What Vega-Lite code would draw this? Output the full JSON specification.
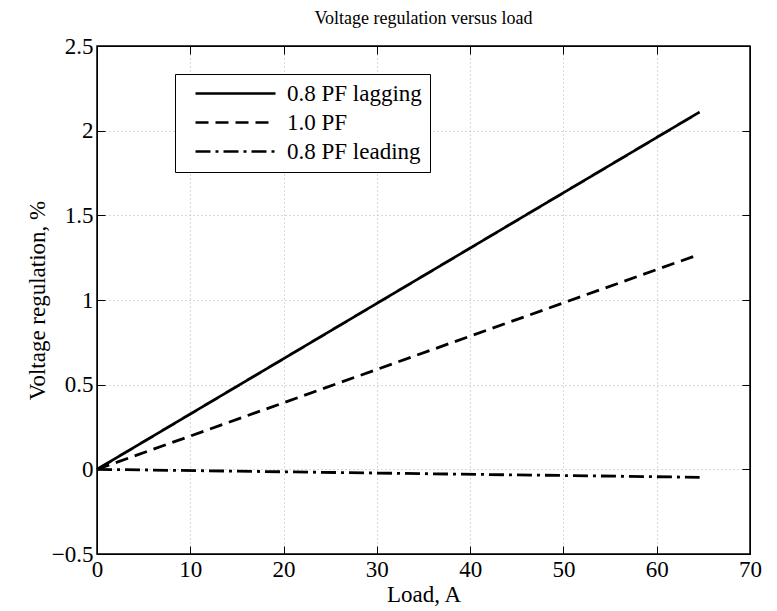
{
  "$schema": "https://vega.github.io/schema/vega-lite/v6.json",
  "width": 653,
  "height": 508,
  "autosize": {"type": "none"},
  "padding": {"left": 97, "top": 46, "right": 27, "bottom": 57},
  "background": "white",
  "title": {
    "text": "Voltage regulation versus load",
    "font": "Liberation Serif",
    "fontSize": 18,
    "fontWeight": "normal",
    "color": "black",
    "offset": 7
  },
  "config": {
    "view": {"stroke": "black", "strokeWidth": 1.5},
    "axis": {
      "labelFont": "Liberation Serif",
      "titleFont": "Liberation Serif",
      "labelFontSize": 23,
      "titleFontSize": 23,
      "titleFontWeight": "normal",
      "labelColor": "black",
      "titleColor": "black",
      "domainColor": "black",
      "tickColor": "black",
      "tickSize": -8,
      "gridColor": "#b0b0b0",
      "gridDash": [1, 3],
      "gridWidth": 1
    }
  },
  "data": {
    "values": [
      {"load": 0, "vr": 0, "series": "0.8 PF lagging"},
      {"load": 30, "vr": 0.98, "series": "0.8 PF lagging"},
      {"load": 64.6, "vr": 2.11, "series": "0.8 PF lagging"},
      {"load": 0, "vr": 0, "series": "1.0 PF"},
      {"load": 30, "vr": 0.59, "series": "1.0 PF"},
      {"load": 64.6, "vr": 1.27, "series": "1.0 PF"},
      {"load": 0, "vr": 0, "series": "0.8 PF leading"},
      {"load": 30, "vr": -0.022, "series": "0.8 PF leading"},
      {"load": 64.6, "vr": -0.047, "series": "0.8 PF leading"}
    ]
  },
  "layer": [
    {
      "mark": {"type": "line", "color": "black", "strokeWidth": 2.8},
      "encoding": {
        "x": {
          "field": "load", "type": "quantitative",
          "scale": {"domain": [0, 70], "nice": false},
          "axis": {"title": "Load, A", "values": [0, 10, 20, 30, 40, 50, 60, 70], "labelPadding": 12, "titlePadding": 2, "labelFlush": false}
        },
        "y": {
          "field": "vr", "type": "quantitative",
          "scale": {"domain": [-0.5, 2.5], "nice": false, "zero": false},
          "axis": {"title": "Voltage regulation, %", "values": [-0.5, 0, 0.5, 1, 1.5, 2, 2.5], "format": "~g", "labelPadding": 12, "titlePadding": 2, "labelFlush": false}
        },
        "strokeDash": {
          "field": "series", "type": "nominal",
          "scale": {
            "domain": ["0.8 PF lagging", "1.0 PF", "0.8 PF leading"],
            "range": [[1, 0], [13, 7], [15, 5, 3, 5]]
          },
          "legend": {
            "title": null,
            "orient": "none",
            "legendX": 78,
            "legendY": 28,
            "direction": "vertical",
            "symbolType": "M0.2,0H16.2",
            "symbolSize": 100,
            "symbolStrokeWidth": 2.6,
            "symbolStrokeColor": "black",
            "labelFont": "Liberation Serif",
            "labelFontSize": 23,
            "labelColor": "black",
            "labelOffset": 81,
            "labelLimit": 400,
            "rowPadding": 5,
            "padding": 8,
            "strokeColor": "black",
            "fillColor": "white"
          }
        }
      }
    },
    {
      "mark": {"type": "line", "opacity": 0},
      "encoding": {
        "x": {
          "field": "load", "type": "quantitative",
          "scale": {"domain": [0, 70], "nice": false},
          "axis": {"orient": "top", "title": null, "labels": false, "grid": false, "values": [0, 10, 20, 30, 40, 50, 60, 70]}
        },
        "y": {
          "field": "vr", "type": "quantitative",
          "scale": {"domain": [-0.5, 2.5], "nice": false, "zero": false},
          "axis": {"orient": "right", "title": null, "labels": false, "grid": false, "values": [-0.5, 0, 0.5, 1, 1.5, 2, 2.5]}
        },
        "detail": {"field": "series", "type": "nominal"}
      }
    }
  ],
  "resolve": {"axis": {"x": "independent", "y": "independent"}}
}
